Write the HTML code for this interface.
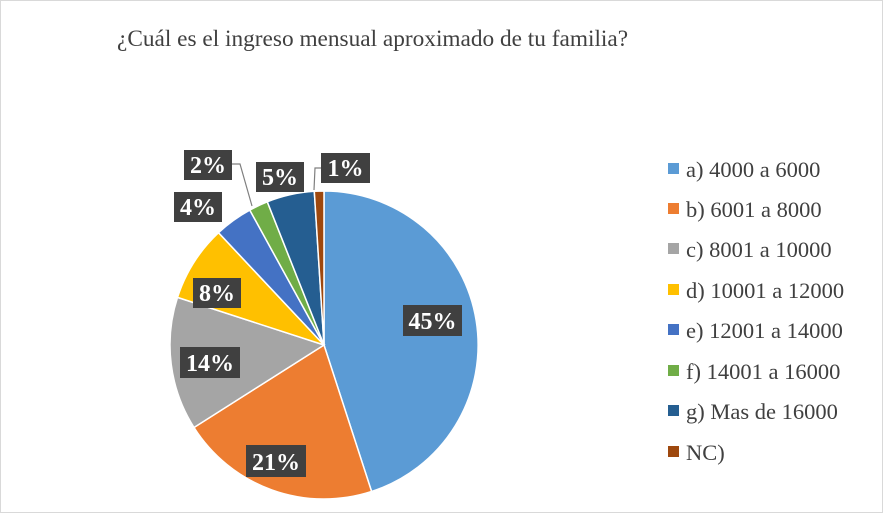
<!DOCTYPE html>
<html><head><meta charset="utf-8"><style>
html,body{margin:0;padding:0;background:#fff}
svg{display:block}
</style></head><body>
<svg width="884" height="527" viewBox="0 0 884 527" xmlns="http://www.w3.org/2000/svg" font-family="'Liberation Serif',serif">
<rect x="0.5" y="0.5" width="882" height="512" fill="#fff" stroke="#d9d9d9"/>
<text x="117" y="46" font-size="23.3" fill="#404040">¿Cuál es el ingreso mensual aproximado de tu familia?</text>
<g stroke="#fff" stroke-width="1.5">
<path d="M324,345 L324,191 A154,154 0 0 1 371.6,491.5 Z" fill="#5b9bd5"/>
<path d="M324,345 L371.6,491.5 A154,154 0 0 1 194,427.5 Z" fill="#ed7d31"/>
<path d="M324,345 L194,427.5 A154,154 0 0 1 177.5,297.4 Z" fill="#a5a5a5"/>
<path d="M324,345 L177.5,297.4 A154,154 0 0 1 218.5,232.7 Z" fill="#ffc000"/>
<path d="M324,345 L218.5,232.7 A154,154 0 0 1 249.8,210.1 Z" fill="#4472c4"/>
<path d="M324,345 L249.8,210.1 A154,154 0 0 1 267.3,201.8 Z" fill="#70ad47"/>
<path d="M324,345 L267.3,201.8 A154,154 0 0 1 314.3,191.3 Z" fill="#255e91"/>
<path d="M324,345 L314.3,191.3 A154,154 0 0 1 324,191 Z" fill="#9e480e"/>
</g>
<g stroke="#7f7f7f" stroke-width="1.2" fill="none">
<polyline points="232,164 240,164 252,206"/>
<polyline points="321,168 315,168 314,190"/>
</g>
<g fill="#404040">
<rect x="403" y="305" width="59" height="31"/>
<rect x="246" y="445" width="60" height="32"/>
<rect x="180" y="347" width="60" height="31"/>
<rect x="193" y="278" width="48" height="30"/>
<rect x="174" y="192" width="48" height="30"/>
<rect x="184" y="150" width="48" height="30"/>
<rect x="256" y="162" width="48" height="30"/>
<rect x="321" y="153" width="49" height="30"/>
</g>
<g fill="#fff" font-size="24" font-weight="bold" text-anchor="middle">
<text x="432.5" y="329">45%</text>
<text x="276" y="470">21%</text>
<text x="210" y="371">14%</text>
<text x="217" y="301">8%</text>
<text x="198" y="215">4%</text>
<text x="208" y="173">2%</text>
<text x="280" y="185">5%</text>
<text x="345.5" y="176">1%</text>
</g>
<g font-size="22.5" fill="#404040">
<rect x="668" y="163" width="11" height="11" fill="#5b9bd5"/><text x="686" y="177">a) 4000 a 6000</text>
<rect x="668" y="203" width="11" height="11" fill="#ed7d31"/><text x="686" y="217">b) 6001 a 8000</text>
<rect x="668" y="243" width="11" height="11" fill="#a5a5a5"/><text x="686" y="257">c) 8001 a 10000</text>
<rect x="668" y="284" width="11" height="11" fill="#ffc000"/><text x="686" y="298">d) 10001 a 12000</text>
<rect x="668" y="324" width="11" height="11" fill="#4472c4"/><text x="686" y="338">e) 12001 a 14000</text>
<rect x="668" y="365" width="11" height="11" fill="#70ad47"/><text x="686" y="379">f) 14001 a 16000</text>
<rect x="668" y="405" width="11" height="11" fill="#255e91"/><text x="686" y="419">g) Mas de 16000</text>
<rect x="668" y="446" width="11" height="11" fill="#9e480e"/><text x="686" y="460">NC)</text>
</g>
</svg>
</body></html>
